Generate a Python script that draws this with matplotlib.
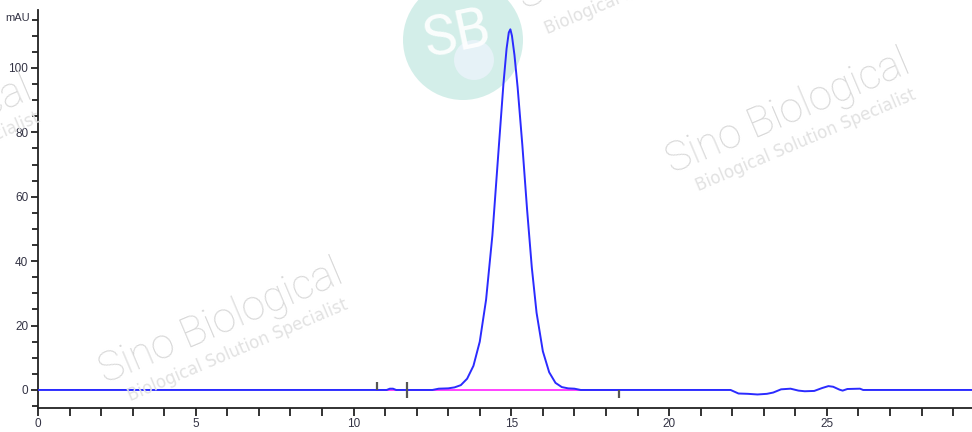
import matplotlib
matplotlib.use("Agg")
import matplotlib.pyplot as plt
from matplotlib import font_manager
from matplotlib.patches import Ellipse
from matplotlib.ticker import MultipleLocator

# ---------------- data ----------------
trace_time = [0.0, 10.7, 11.05, 11.15, 11.25, 11.35, 12.5, 12.7, 13.0, 13.2, 13.4,
              13.6, 13.8, 14.0, 14.2, 14.4, 14.6, 14.75, 14.85, 14.92, 14.97, 15.02,
              15.1, 15.2, 15.35, 15.5, 15.65, 15.8, 16.0, 16.2, 16.4, 16.6, 16.8,
              17.0, 17.2, 21.95, 22.2, 22.5, 22.8, 23.1, 23.3, 23.55, 23.85, 24.1,
              24.3, 24.6, 24.85, 25.05, 25.2, 25.4, 25.5, 25.65, 26.05, 26.15, 29.6]
trace_mau = [0.0, 0.0, 0.0, 0.4, 0.4, 0.0, 0.0, 0.4, 0.5, 0.8, 1.5,
             3.5, 7.5, 15.0, 28.0, 48.0, 75.0, 95.0, 106.0, 111.0, 112.0, 110.0,
             104.0, 94.0, 76.0, 56.0, 38.0, 24.0, 12.0, 5.5, 2.2, 0.9, 0.5,
             0.4, 0.0, 0.0, -1.1, -1.2, -1.4, -1.2, -0.8, 0.2, 0.4, -0.2,
             -0.4, -0.3, 0.6, 1.2, 1.0, 0.1, -0.2, 0.3, 0.4, 0.0, 0.0]

baseline_time = [10.75, 18.4]
baseline_mau = [0.0, 0.0]

marker_time = [10.75, 11.7, 18.4]
marker_low = [0.0, -2.5, -2.5]
marker_high = [2.5, 2.5, 0.0]

x_major = [0, 5, 10, 15, 20, 25]
y_major = [0, 20, 40, 60, 80, 100]
y_unit_label = "mAU"

wm_main = "Sino Biological"
wm_sub = "Biological Solution Specialist"
logo_text = "SB"

# ---------------- fonts ----------------
def first_font(names):
    for name in names:
        try:
            font_manager.findfont(font_manager.FontProperties(family=name),
                                  fallback_to_default=False)
            return [name, "DejaVu Sans"]
        except Exception:
            continue
    return ["DejaVu Sans"]

tick_family = first_font(["Liberation Sans Narrow", "Arial Narrow", "Liberation Sans"])
wm_family = first_font(["Roboto", "Liberation Sans"])
sub_family = first_font(["DejaVu Sans"])

# ---------------- figure ----------------
fig = plt.figure(figsize=(9.72, 4.32), dpi=100)
W, H = 972.0, 432.0


def fx(px):
    return px / W


def fy(py):
    return 1 - py / H


# watermark / logo (behind the axes)
logo = Ellipse((fx(463), fy(40)), 120 / W, 120 / H, transform=fig.transFigure,
               facecolor="#d3eee9", edgecolor="none", zorder=0)
fig.add_artist(logo)
glint = Ellipse((fx(474), fy(60)), 40 / W, 40 / H, transform=fig.transFigure,
                facecolor="#e6f2f7", edgecolor="none", zorder=0)
fig.add_artist(glint)
fig.text(fx(457), fy(35), logo_text, color="white", fontsize=40, family=wm_family,
         ha="center", va="center", rotation=12, alpha=0.9, zorder=0)

wm_positions = [(788, 112, 806, 140), (221, 322, 238, 350),
                (640, -52, 655, -17), (-90, 138, -70, 163)]
for mx, my, sx, sy in wm_positions:
    fig.text(fx(mx), fy(my), wm_main, color="#d8d8d8", fontsize=30, family=wm_family,
             fontweight="light", ha="center", va="center", rotation=23, zorder=0)
    fig.text(fx(sx), fy(sy), wm_sub, color="#e2e2e2", fontsize=12, family=sub_family,
             fontweight="normal", ha="center", va="center", rotation=23, zorder=0)

ax = fig.add_axes([38 / W, 1 - 408 / H, 1 - 38 / W, (408 - 10) / H])
ax.patch.set_alpha(0)

ax.plot(trace_time, trace_mau, color="#2b2bff", lw=1.4, zorder=3)
ax.plot(baseline_time, baseline_mau, color="#ff33ff", lw=1.3, zorder=2)
ax.vlines(marker_time, marker_low, marker_high, color="#555555", lw=1.6, zorder=4)

ax.set_xlim(0, 29.6)
ax.set_ylim(-5.6, 118)

for s in ("top", "right"):
    ax.spines[s].set_visible(False)
for s in ("left", "bottom"):
    ax.spines[s].set_color("#222222")
    ax.spines[s].set_linewidth(1.3)

ax.set_xticks(x_major)
ax.set_xticklabels([str(v) for v in x_major])
ax.xaxis.set_minor_locator(MultipleLocator(1))
ax.set_yticks(y_major)
ax.set_yticklabels([str(v) for v in y_major])
ax.yaxis.set_minor_locator(MultipleLocator(5))

ax.tick_params(axis="both", which="both", direction="out", color="#222222",
               width=1.3, labelcolor="#333344")
ax.tick_params(axis="x", which="major", length=6, pad=1)
ax.tick_params(axis="x", which="minor", length=6)
ax.tick_params(axis="y", which="major", length=5, pad=2)
ax.tick_params(axis="y", which="minor", length=4)
for lab in ax.get_xticklabels() + ax.get_yticklabels():
    lab.set_family(tick_family)
    lab.set_fontsize(8.5)

ax.annotate(y_unit_label, xy=(0, 115.5), xycoords=("axes fraction", "data"),
            xytext=(-6, 0), textcoords="offset points", ha="right", va="center",
            fontsize=8, family=tick_family, color="#333344")

fig.savefig("out.png", dpi=100)
